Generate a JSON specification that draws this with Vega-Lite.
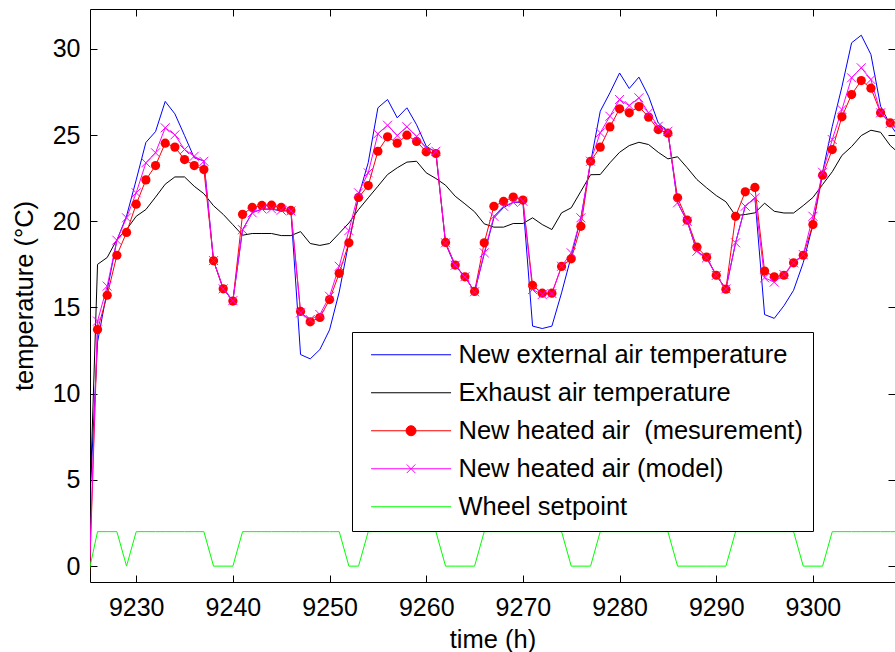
{
  "$schema": "https://vega.github.io/schema/vega-lite/v6.json",
  "width": 805,
  "height": 573,
  "autosize": "none",
  "padding": {"left": 90, "top": 9, "right": 0, "bottom": 70},
  "background": "white",
  "config": {
    "view": {"stroke": null},
    "font": "Liberation Sans",
    "axis": {
      "grid": false,
      "domainColor": "black",
      "domainWidth": 1,
      "tickColor": "black",
      "tickWidth": 1,
      "labelColor": "black",
      "titleColor": "black",
      "labelFont": "Liberation Sans",
      "titleFont": "Liberation Sans",
      "labelFontSize": 25,
      "titleFontSize": 25.5,
      "titleFontWeight": "normal",
      "labelFlush": false,
      "labelOverlap": false
    }
  },
  "data": {
    "values": [
      {"t": 9225, "ext": 1.5, "exh": 0, "meas": -3.5, "model": -3.0, "wheel": -0.6},
      {"t": 9226, "ext": 13.0, "exh": 17.5, "meas": 13.72, "model": 14.21, "wheel": 2},
      {"t": 9227, "ext": 16.0, "exh": 17.9, "meas": 15.71, "model": 16.24, "wheel": 2},
      {"t": 9228, "ext": 18.9, "exh": 18.94, "meas": 18.03, "model": 18.9, "wheel": 2},
      {"t": 9229, "ext": 20.3, "exh": 19.52, "meas": 19.35, "model": 20.2, "wheel": 0},
      {"t": 9230, "ext": 22.4, "exh": 20.29, "meas": 20.99, "model": 21.65, "wheel": 2},
      {"t": 9231, "ext": 24.57, "exh": 20.68, "meas": 22.4, "model": 23.39, "wheel": 2},
      {"t": 9232, "ext": 25.2, "exh": 21.4, "meas": 23.23, "model": 23.97, "wheel": 2},
      {"t": 9233, "ext": 26.95, "exh": 22.15, "meas": 24.53, "model": 25.42, "wheel": 2},
      {"t": 9234, "ext": 26.23, "exh": 22.57, "meas": 24.3, "model": 25.01, "wheel": 2},
      {"t": 9235, "ext": 24.97, "exh": 22.57, "meas": 23.58, "model": 24.16, "wheel": 2},
      {"t": 9236, "ext": 23.68, "exh": 22.03, "meas": 23.23, "model": 23.77, "wheel": 2},
      {"t": 9237, "ext": 23.5, "exh": 21.6, "meas": 23.0, "model": 23.48, "wheel": 2},
      {"t": 9238, "ext": 17.7, "exh": 20.9, "meas": 17.71, "model": 17.72, "wheel": 0},
      {"t": 9239, "ext": 16.1, "exh": 20.4, "meas": 16.08, "model": 16.08, "wheel": 0},
      {"t": 9240, "ext": 15.4, "exh": 19.8, "meas": 15.37, "model": 15.4, "wheel": 0},
      {"t": 9241, "ext": 19.5, "exh": 19.19, "meas": 20.4, "model": 19.51, "wheel": 2},
      {"t": 9242, "ext": 20.5, "exh": 19.29, "meas": 20.8, "model": 20.49, "wheel": 2},
      {"t": 9243, "ext": 20.7, "exh": 19.29, "meas": 20.92, "model": 20.72, "wheel": 2},
      {"t": 9244, "ext": 20.7, "exh": 19.29, "meas": 20.93, "model": 20.72, "wheel": 2},
      {"t": 9245, "ext": 20.6, "exh": 19.17, "meas": 20.8, "model": 20.64, "wheel": 2},
      {"t": 9246, "ext": 20.6, "exh": 19.17, "meas": 20.63, "model": 20.6, "wheel": 2},
      {"t": 9247, "ext": 12.27, "exh": 19.4, "meas": 14.77, "model": 14.69, "wheel": 2},
      {"t": 9248, "ext": 12.02, "exh": 18.71, "meas": 14.17, "model": 14.3, "wheel": 2},
      {"t": 9249, "ext": 12.56, "exh": 18.6, "meas": 14.42, "model": 14.59, "wheel": 2},
      {"t": 9250, "ext": 13.7, "exh": 18.71, "meas": 15.46, "model": 15.65, "wheel": 2},
      {"t": 9251, "ext": 15.9, "exh": 19.3, "meas": 16.98, "model": 17.39, "wheel": 2},
      {"t": 9252, "ext": 18.8, "exh": 19.9, "meas": 18.75, "model": 19.46, "wheel": 0},
      {"t": 9253, "ext": 21.45, "exh": 20.68, "meas": 21.38, "model": 21.65, "wheel": 0},
      {"t": 9254, "ext": 23.4, "exh": 21.36, "meas": 22.07, "model": 22.81, "wheel": 2},
      {"t": 9255, "ext": 26.58, "exh": 22.03, "meas": 24.06, "model": 25.07, "wheel": 2},
      {"t": 9256, "ext": 27.06, "exh": 22.71, "meas": 24.9, "model": 25.57, "wheel": 2},
      {"t": 9257, "ext": 26.0, "exh": 23.1, "meas": 24.53, "model": 24.97, "wheel": 2},
      {"t": 9258, "ext": 26.58, "exh": 23.43, "meas": 24.99, "model": 25.48, "wheel": 2},
      {"t": 9259, "ext": 25.6, "exh": 23.48, "meas": 24.63, "model": 24.93, "wheel": 2},
      {"t": 9260, "ext": 24.35, "exh": 22.81, "meas": 24.03, "model": 24.26, "wheel": 2},
      {"t": 9261, "ext": 24.0, "exh": 22.48, "meas": 23.93, "model": 24.06, "wheel": 2},
      {"t": 9262, "ext": 18.7, "exh": 22.09, "meas": 18.77, "model": 18.75, "wheel": 0},
      {"t": 9263, "ext": 17.4, "exh": 21.45, "meas": 17.46, "model": 17.45, "wheel": 0},
      {"t": 9264, "ext": 16.8, "exh": 21.01, "meas": 16.78, "model": 16.78, "wheel": 0},
      {"t": 9265, "ext": 15.9, "exh": 20.55, "meas": 15.93, "model": 15.91, "wheel": 0},
      {"t": 9266, "ext": 18.1, "exh": 19.85, "meas": 18.75, "model": 18.17, "wheel": 2},
      {"t": 9267, "ext": 20.2, "exh": 19.66, "meas": 20.87, "model": 20.29, "wheel": 2},
      {"t": 9268, "ext": 20.8, "exh": 19.66, "meas": 21.15, "model": 20.87, "wheel": 2},
      {"t": 9269, "ext": 21.1, "exh": 19.87, "meas": 21.4, "model": 21.1, "wheel": 2},
      {"t": 9270, "ext": 21.1, "exh": 19.87, "meas": 21.23, "model": 21.16, "wheel": 2},
      {"t": 9271, "ext": 13.92, "exh": 20.2, "meas": 16.28, "model": 16.04, "wheel": 2},
      {"t": 9272, "ext": 13.78, "exh": 19.81, "meas": 15.83, "model": 15.75, "wheel": 2},
      {"t": 9273, "ext": 13.92, "exh": 19.52, "meas": 15.83, "model": 15.81, "wheel": 2},
      {"t": 9274, "ext": 15.85, "exh": 20.49, "meas": 17.38, "model": 17.39, "wheel": 2},
      {"t": 9275, "ext": 17.97, "exh": 20.78, "meas": 17.82, "model": 18.17, "wheel": 0},
      {"t": 9276, "ext": 20.2, "exh": 21.74, "meas": 19.71, "model": 20.2, "wheel": 0},
      {"t": 9277, "ext": 23.39, "exh": 22.7, "meas": 23.48, "model": 23.48, "wheel": 0},
      {"t": 9278, "ext": 26.38, "exh": 22.71, "meas": 24.3, "model": 25.13, "wheel": 2},
      {"t": 9279, "ext": 27.45, "exh": 23.39, "meas": 25.47, "model": 26.09, "wheel": 2},
      {"t": 9280, "ext": 28.6, "exh": 24.0, "meas": 26.52, "model": 27.06, "wheel": 2},
      {"t": 9281, "ext": 27.7, "exh": 24.39, "meas": 26.29, "model": 26.71, "wheel": 2},
      {"t": 9282, "ext": 28.36, "exh": 24.58, "meas": 26.65, "model": 27.16, "wheel": 2},
      {"t": 9283, "ext": 27.25, "exh": 24.45, "meas": 26.04, "model": 26.29, "wheel": 2},
      {"t": 9284, "ext": 25.7, "exh": 24.0, "meas": 25.32, "model": 25.51, "wheel": 2},
      {"t": 9285, "ext": 25.2, "exh": 23.62, "meas": 25.11, "model": 25.22, "wheel": 2},
      {"t": 9286, "ext": 21.07, "exh": 23.74, "meas": 21.36, "model": 21.07, "wheel": 0},
      {"t": 9287, "ext": 20.0, "exh": 23.1, "meas": 20.06, "model": 20.0, "wheel": 0},
      {"t": 9288, "ext": 18.26, "exh": 22.42, "meas": 18.5, "model": 18.26, "wheel": 0},
      {"t": 9289, "ext": 17.88, "exh": 21.94, "meas": 17.92, "model": 17.88, "wheel": 0},
      {"t": 9290, "ext": 16.86, "exh": 21.49, "meas": 16.87, "model": 16.86, "wheel": 0},
      {"t": 9291, "ext": 16.08, "exh": 21.13, "meas": 16.06, "model": 16.08, "wheel": 0},
      {"t": 9292, "ext": 18.75, "exh": 20.33, "meas": 20.29, "model": 18.75, "wheel": 2},
      {"t": 9293, "ext": 20.87, "exh": 20.39, "meas": 21.71, "model": 20.87, "wheel": 2},
      {"t": 9294, "ext": 21.36, "exh": 20.49, "meas": 21.96, "model": 21.36, "wheel": 2},
      {"t": 9295, "ext": 14.59, "exh": 21.05, "meas": 17.11, "model": 16.72, "wheel": 2},
      {"t": 9296, "ext": 14.37, "exh": 20.58, "meas": 16.78, "model": 16.47, "wheel": 2},
      {"t": 9297, "ext": 15.1, "exh": 20.48, "meas": 16.87, "model": 16.91, "wheel": 2},
      {"t": 9298, "ext": 16.0, "exh": 20.48, "meas": 17.59, "model": 17.59, "wheel": 2},
      {"t": 9299, "ext": 17.6, "exh": 20.91, "meas": 18.03, "model": 18.07, "wheel": 0},
      {"t": 9300, "ext": 19.81, "exh": 21.38, "meas": 19.81, "model": 20.29, "wheel": 0},
      {"t": 9301, "ext": 22.85, "exh": 22.13, "meas": 22.67, "model": 22.84, "wheel": 0},
      {"t": 9302, "ext": 25.5, "exh": 22.87, "meas": 24.16, "model": 24.74, "wheel": 2},
      {"t": 9303, "ext": 27.8, "exh": 23.82, "meas": 26.06, "model": 26.48, "wheel": 2},
      {"t": 9304, "ext": 30.35, "exh": 24.33, "meas": 27.35, "model": 28.32, "wheel": 2},
      {"t": 9305, "ext": 30.79, "exh": 24.97, "meas": 28.16, "model": 28.9, "wheel": 2},
      {"t": 9306, "ext": 29.67, "exh": 25.28, "meas": 27.72, "model": 28.22, "wheel": 2},
      {"t": 9307, "ext": 26.67, "exh": 25.16, "meas": 26.29, "model": 26.29, "wheel": 2},
      {"t": 9308, "ext": 25.6, "exh": 24.39, "meas": 25.71, "model": 25.67, "wheel": 2},
      {"t": 9309, "ext": 24.8, "exh": 23.9, "meas": 25.3, "model": 25.3, "wheel": 2}
    ]
  },
  "transform": [
    {"fold": ["ext", "exh", "meas", "model", "wheel"], "as": ["series", "value"]}
  ],
  "resolve": {"axis": {"x": "independent", "y": "independent"}},
  "layer": [
    {
      "mark": {"type": "line", "strokeWidth": 1, "clip": true, "interpolate": "linear"},
      "encoding": {
        "x": {
          "field": "t", "type": "quantitative",
          "scale": {"domain": [9225.22, 9308.49], "nice": false, "zero": false},
          "axis": {
            "orient": "bottom", "title": "time (h)", "values": [9230, 9240, 9250, 9260, 9270, 9280, 9290, 9300],
            "format": "d", "tickSize": -7, "labelPadding": 20, "titlePadding": 7
          }
        },
        "y": {
          "field": "value", "type": "quantitative",
          "scale": {"domain": [-0.92, 32.31], "nice": false, "zero": false},
          "axis": {
            "orient": "left", "title": "temperature (°C)", "values": [0, 5, 10, 15, 20, 25, 30],
            "tickSize": -7, "labelPadding": 17, "titlePadding": 15
          }
        },
        "detail": {"field": "series"},
        "color": {
          "field": "series", "type": "nominal",
          "scale": {
            "domain": ["ext", "exh", "meas", "model", "wheel"],
            "range": ["#0000ff", "#000000", "#ff0000", "#ff00ff", "#00ff00"]
          },
          "legend": {
            "orient": "none",
            "legendX": 262,
            "legendY": 323,
            "title": null,
            "fillColor": "white",
            "strokeColor": "black",
            "padding": 10,
            "rowPadding": 11,
            "symbolSize": 400,
            "symbolStrokeWidth": 1,
            "labelOffset": 71,
            "labelFontSize": 25.5,
            "labelFont": "Liberation Sans",
            "labelColor": "black",
            "labelLimit": 500,
            "labelExpr": "{'ext': 'New external air temperature', 'exh': 'Exhaust air temperature', 'meas': 'New heated air\u00a0 (mesurement)', 'model': 'New heated air (model)', 'wheel': 'Wheel setpoint'}[datum.label]",
            "encode": {
              "symbols": {
                "update": {
                  "shape": {"signal": "datum.value == 'meas' ? 'M-0.37,0H7.63M4.13,0A0.5,0.5,0,1,1,3.13,0A0.5,0.5,0,1,1,4.13,0Z' : datum.value == 'model' ? 'M-0.37,0H7.63M3.2,-0.43L4.06,0.43M3.2,0.43L4.06,-0.43' : 'M-0.37,0H7.63'"},
                  "fill": {"signal": "datum.value == 'meas' ? '#ff0000' : 'transparent'"},
                  "stroke": {"scale": "color", "field": "value"},
                  "strokeWidth": {"value": 1},
                  "opacity": {"value": 1}
                }
              }
            }
          }
        }
      }
    },
    {
      "transform": [{"filter": "datum.series == 'meas'"}],
      "mark": {"type": "point", "shape": "circle", "filled": true, "size": 85, "color": "#ff0000", "opacity": 1, "clip": true},
      "encoding": {
        "x": {
          "field": "t", "type": "quantitative",
          "axis": {"orient": "top", "title": null, "labels": false, "values": [9230, 9240, 9250, 9260, 9270, 9280, 9290, 9300], "tickSize": -7}
        },
        "y": {
          "field": "value", "type": "quantitative",
          "axis": {"orient": "right", "title": null, "labels": false, "values": [0, 5, 10, 15, 20, 25, 30], "tickSize": -7}
        }
      }
    },
    {
      "transform": [{"filter": "datum.series == 'model'"}],
      "mark": {"type": "point", "shape": "M-1,-1L1,1M-1,1L1,-1", "filled": false, "size": 81, "color": "#ff00ff", "strokeWidth": 1, "opacity": 1, "clip": true},
      "encoding": {
        "x": {"field": "t", "type": "quantitative", "axis": null},
        "y": {"field": "value", "type": "quantitative", "axis": null}
      }
    }
  ]
}
